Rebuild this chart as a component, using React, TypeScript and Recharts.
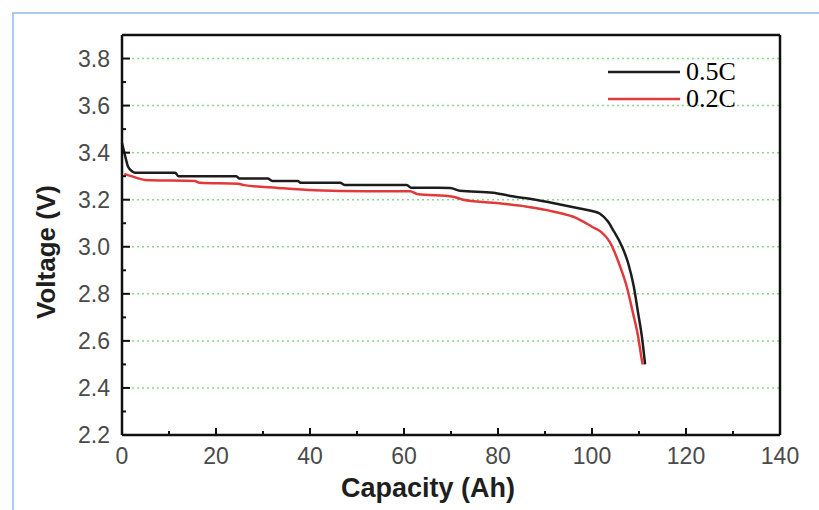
import {
  LineChart,
  Line,
  XAxis,
  YAxis,
  CartesianGrid,
  ReferenceLine,
} from "recharts";

// discharge curves: [capacity Ah, voltage V]
const cap05C = [0, 0.5, 1.3, 2.2, 2.8, 11.3, 12, 24.3, 25, 31, 32, 37.4, 38, 46.4, 47.5, 60.6, 61.5, 69.8, 71.9, 79, 82.6, 87.4, 93.2, 97.4, 100, 101.7, 103.4, 104.5, 106.4, 107.7, 108.9, 109.8, 110.6, 111.3];
const volt05C = [3.44, 3.4, 3.34, 3.32, 3.315, 3.315, 3.3, 3.3, 3.29, 3.29, 3.28, 3.28, 3.272, 3.272, 3.262, 3.262, 3.251, 3.25, 3.238, 3.23, 3.216, 3.202, 3.18, 3.163, 3.152, 3.14, 3.107, 3.071, 3.0, 2.93, 2.83, 2.72, 2.62, 2.5];

const cap02C = [0.5, 2, 4.9, 15.5, 16.5, 24.7, 26, 33.2, 41, 52, 61.3, 62.8, 70.4, 72.6, 79, 86.2, 91.7, 96.8, 100, 102, 103.8, 106, 107.4, 108.7, 109.8, 110.6, 110.8];
const volt02C = [3.31, 3.3, 3.284, 3.28, 3.272, 3.268, 3.262, 3.25, 3.24, 3.236, 3.236, 3.224, 3.213, 3.2, 3.187, 3.17, 3.15, 3.121, 3.085, 3.062, 3.02, 2.915, 2.83, 2.72, 2.62, 2.52, 2.5];

const xTicks = [0, 10, 20, 30, 40, 50, 60, 70, 80, 90, 100, 110, 120, 130, 140];
const xLabels = [0, 20, 40, 60, 80, 100, 120, 140];
const yTicks = [2.2, 2.3, 2.4, 2.5, 2.6, 2.7, 2.8, 2.9, 3.0, 3.1, 3.2, 3.3, 3.4, 3.5, 3.6, 3.7, 3.8];
const yLabels = ["2.2", "2.4", "2.6", "2.8", "3.0", "3.2", "3.4", "3.6", "3.8"];
const gridValues = [2.4, 2.6, 2.8, 3.0, 3.2, 3.4, 3.6, 3.8];

const series = [
  { name: "0.5C", color: "#1c1c1c", caps: cap05C, volts: volt05C },
  { name: "0.2C", color: "#e03a3a", caps: cap02C, volts: volt02C },
];

const sans = "'Liberation Sans', Arial, sans-serif";

function XTick(props: any) {
  const { x, y, payload } = props;
  const v = payload.value;
  const major = xLabels.includes(v);
  return (
    <g>
      {v > 0 && v < 140 && (
        <line x1={x} x2={x} y1={y} y2={y - (major ? 7 : 4)} stroke="#111" strokeWidth={2} />
      )}
      {major && (
        <text x={x} y={y + 29} textAnchor="middle" fill="#4a4a4a" fontSize={23} fontFamily={sans}>
          {v}
        </text>
      )}
    </g>
  );
}

function YTick(props: any) {
  const { x, y, payload } = props;
  const label = payload.value.toFixed(1);
  const major = yLabels.includes(label);
  return (
    <g>
      {payload.value > 2.2 && (
        <line x1={x} x2={x + (major ? 8 : 4)} y1={y} y2={y} stroke="#111" strokeWidth={2} />
      )}
      {major && (
        <text x={x - 12} y={y + 8} textAnchor="end" fill="#4a4a4a" fontSize={23} fontFamily={sans}>
          {label}
        </text>
      )}
    </g>
  );
}

function LegendBox() {
  return (
    <div
      style={{
        position: "absolute",
        left: 608,
        top: 58,
        fontFamily: "'Liberation Serif', 'Times New Roman', serif",
        fontSize: 26,
        color: "#000",
      }}
    >
      {series.map((s) => (
        <div key={s.name} style={{ display: "flex", alignItems: "center", height: 27 }}>
          <svg width={72} height={6} style={{ marginRight: 6 }}>
            <line x1={0} x2={72} y1={3} y2={3} stroke={s.color} strokeWidth={2.5} />
          </svg>
          <span>{s.name}</span>
        </div>
      ))}
    </div>
  );
}

export default function App() {
  return (
    <div style={{ position: "absolute", left: 0, top: 0, width: 819, height: 510, background: "#fff" }}>
      <div
        style={{
          position: "absolute",
          left: 12,
          top: 12,
          width: 807,
          height: 498,
          borderTop: "2px solid #a9c9ee",
          borderLeft: "2px solid #a9c9ee",
        }}
      />
      <LineChart width={819} height={510} margin={{ top: 35, right: 39, left: 0, bottom: 0 }}>
        <CartesianGrid
          horizontal
          vertical={false}
          horizontalValues={gridValues}
          stroke="#8fd68f"
          strokeDasharray="2 3"
          strokeWidth={1.5}
        />
        <XAxis
          type="number"
          dataKey="x"
          domain={[0, 140]}
          ticks={xTicks}
          interval={0}
          height={75}
          tickSize={0}
          tickMargin={0}
          tickLine={false}
          axisLine={{ stroke: "#111", strokeWidth: 2.5 }}
          tick={<XTick />}
          allowDuplicatedCategory={false}
          label={{
            content: () => (
              <text x={428} y={497} textAnchor="middle" fill="#1e1e1e" fontSize={27} fontWeight="bold" fontFamily={sans}>
                Capacity (Ah)
              </text>
            ),
          }}
        />
        <YAxis
          type="number"
          domain={[2.2, 3.9]}
          ticks={yTicks}
          interval={0}
          width={122}
          tickSize={0}
          tickMargin={0}
          tickLine={false}
          axisLine={{ stroke: "#111", strokeWidth: 2.5 }}
          tick={<YTick />}
          label={{
            content: () => (
              <text
                x={46}
                y={252}
                transform="rotate(-90 46 252)"
                textAnchor="middle"
                dominantBaseline="central"
                fill="#1e1e1e"
                fontSize={26}
                fontWeight="bold"
                fontFamily={sans}
              >
                Voltage (V)
              </text>
            ),
          }}
        />
        <ReferenceLine y={3.9} stroke="#111" strokeWidth={2.5} />
        <ReferenceLine x={140} stroke="#111" strokeWidth={2.5} />
        {series.map((s) => (
          <Line
            key={s.name}
            name={s.name}
            data={s.caps.map((c, i) => ({ x: c, y: s.volts[i] }))}
            dataKey="y"
            type="monotone"
            stroke={s.color}
            strokeWidth={2.5}
            dot={false}
            isAnimationActive={false}
          />
        ))}
      </LineChart>
      <LegendBox />
    </div>
  );
}
